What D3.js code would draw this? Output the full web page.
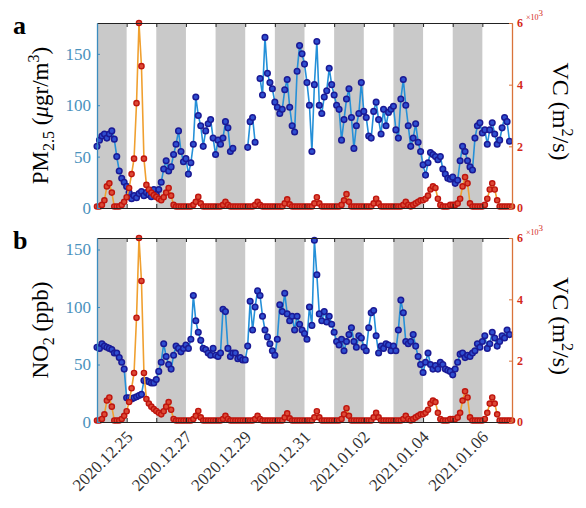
<!DOCTYPE html>
<head>
    <meta charset="utf-8">
    <title>PM2.5 / NO2 vs VC</title>
    <script src="https://d3js.org/d3.v7.min.js"></script>
    <style>
        body { margin: 0; background: #fff; }
        text { font-family: "Liberation Serif", "DejaVu Serif", serif; }
    </style>
</head>
<body>
<script>
    // 2-hourly samples from 2020.12.24 00:00 to 2021.01.07 00:00
    const startDay = "2020.12.24"
    const endDay = "2021.01.07"
    const stepHours = 2

    const pm25 = [
        60, 66, 70, 72, 68, 72, 75, 67, 50, 36, 29, 25,
        21, 15, 9, 12, 10, 14, 16, 12, 15, 13, 11, 18,
        13, 18, 25, 38, 46, 36, 40, 52, 62, 75, 55, 45,
        48, 33, 44, 62, 108, 90, 80, 60, 75, 82, 86, 68,
        52, 66, 62, 68, 84, 78, 55, 58, null, null, null, null,
        null, 59, 84, 88, 64, null, 126, 110, 166, 131, 122, 116,
        103, 98, 92, 96, 115, 125, 98, 80, 74, 133, 158, 150,
        140, 122, 100, 55, 120, 162, 100, 92, 108, 114, 136, 120,
        110, 100, 96, 66, 86, 106, 116, 88, 58, 80, 92, 122,
        94, 88, 70, 68, 94, 103, 86, 72, 96, 80, 93, 96,
        99, 76, 68, 106, 125, 100, 80, 60, 68, 82, 64, 55,
        42, 32, 44, 54, 52, 50, 47, 50, 38, 33, 29, 28,
        30, 24, 27, 46, 60, 55, 46, 40, 37, 68, 80, 83,
        73, 76, 62, 76, 83, 72, 62, 66, 78, 88, 84, 65, null
    ]

    const no2 = [
        65, 64, 68, 66, 65, 64, 63, 60, 60, 56, 52, 46,
        21, 21, 20, 21, 22, 23, 24, 36, 36, 35, 34, 34,
        37, 44, 52, 68, 57, 50, 46, 58, 66, 64, 61, 64,
        67, 64, 72, 110, 88, 78, 71, 64, 63, 60, 58, 64,
        58, 57, 60, 98, 96, 64, 57, 60, 60, 55, 56, 54,
        54, 66, 105, 80, 100, 114, 110, 92, 80, 74, 68, 62,
        58, 72, 102, 96, 112, 94, 88, 92, 80, 92, 85, 80,
        77, 72, 100, 84, 158, 128, 94, 88, 96, 87, 92, 85,
        78, 70, 67, 72, 62, 70, 76, 82, 70, 65, 75, 73,
        65, 62, 82, 95, 97, 75, 60, 66, 64, 68, 67, 62,
        66, 62, 80, 106, 95, 70, 68, 70, 76, 66, 57, 50,
        43, 52, 60, 50, 46, 49, 46, 52, 50, 46, 45, 44,
        41, 46, 52, 59, 60, 56, 58, 57, 60, 62, 68, 65,
        70, 75, 64, 68, 78, 73, 66, 70, 75, 73, 80, 76, null
    ]

    // ventilation coefficient, m2/s
    const vc = [
        50, 50, 100, 250, 700, 800, 500, 50, 50, 50, 100, 200,
        350, 650, 1100, 1600, 3400, 6000, 4600, 1600, 750, 600, 500, 420,
        360, 300, 250, 350, 500, 650, 400, 100, 50, 50, 50, 50,
        50, 50, 50, 100, 200, 360, 150, 50, 50, 50, 50, 50,
        50, 50, 50, 100, 200, 100, 50, 50, 50, 50, 50, 50,
        50, 50, 50, 50, 100, 200, 100, 50, 50, 50, 50, 50,
        50, 50, 50, 50, 150, 280, 120, 50, 50, 50, 50, 50,
        50, 50, 50, 50, 150, 350, 150, 50, 50, 50, 50, 50,
        50, 50, 50, 100, 250, 450, 200, 50, 50, 50, 50, 50,
        50, 50, 50, 50, 150, 300, 150, 50, 50, 50, 50, 50,
        50, 50, 50, 50, 100, 200, 100, 50, 100, 150, 200, 250,
        250, 300, 400, 600, 700, 650, 300, 100, 50, 50, 50, 100,
        100, 100, 150, 300, 700, 1000, 800, 150, 50, 50, 50, 50,
        50, 100, 300, 600, 800, 600, 250, 50, 50, 50, 50, 50, 50
    ]

    const dateLabels = ["2020.12.25", "2020.12.27", "2020.12.29", "2020.12.31", "2021.01.02", "2021.01.04", "2021.01.06"]
    const vcTicks = [0, 2000, 4000, 6000]

    const parseDay = d3.timeParse("%Y.%m.%d")
    const t0 = parseDay(startDay)
    const t1 = parseDay(endDay)
    const times = pm25.map((_, i) => d3.timeHour.offset(t0, i * stepHours))

    const width = 586, height = 508
    const left = 97, right = 512

    const svg = d3.select("body").append("svg")
        .attr("width", width)
        .attr("height", height)

    const x = d3.scaleTime().domain([t0, t1]).range([left, right])
    const days = d3.timeDay.range(t0, t1)

    const panels = [
        { letter: "a", top: 23, bottom: 208, values: pm25, yMax: 180, yTicks: [0, 50, 100, 150], label: "pm" },
        { letter: "b", top: 238, bottom: 422, values: no2, yMax: 160, yTicks: [0, 50, 100, 150], label: "no2" }
    ]

    const blueAxis = "#3b8cbf"
    const redAxis = "#d9733a"

    panels.forEach((p, k) => {
        const y = d3.scaleLinear().domain([0, p.yMax]).range([p.bottom, p.top])
        const yR = d3.scaleLinear().domain([0, 6000]).range([p.bottom, p.top])
        const g = svg.append("g")

        svg.append("clipPath").attr("id", "clip" + k)
            .append("rect")
            .attr("x", left).attr("y", p.top)
            .attr("width", right - left).attr("height", p.bottom - p.top)

        // day / night bands
        g.append("g").selectAll("rect")
            .data(days.filter((d, i) => i % 2 === 0))
            .join("rect")
                .attr("x", d => x(d))
                .attr("y", p.top)
                .attr("width", d => x(d3.timeDay.offset(d, 1)) - x(d))
                .attr("height", p.bottom - p.top)
                .attr("fill", "#c9c9c9")

        const blue = p.values.map((v, i) => ({ t: times[i], v: v }))
        const red = vc.map((v, i) => ({ t: times[i], v: v }))

        g.append("path")
            .datum(blue)
            .attr("clip-path", `url(#clip${k})`)
            .attr("fill", "none")
            .attr("stroke", "#2590d8")
            .attr("stroke-width", 1.6)
            .attr("d", d3.line().defined(d => d.v !== null).x(d => x(d.t)).y(d => y(d.v)))

        g.append("g").selectAll("circle")
            .data(blue.filter(d => d.v !== null))
            .join("circle")
                .attr("cx", d => x(d.t))
                .attr("cy", d => y(d.v))
                .attr("r", 2.8)
                .attr("fill", "#2f4fd0")
                .attr("stroke", "#1a1a95")
                .attr("stroke-width", 1.5)

        g.append("path")
            .datum(red)
            .attr("clip-path", `url(#clip${k})`)
            .attr("fill", "none")
            .attr("stroke", "#f0a030")
            .attr("stroke-width", 1.6)
            .attr("d", d3.line().x(d => x(d.t)).y(d => yR(d.v)))

        g.append("g").selectAll("circle")
            .data(red)
            .join("circle")
                .attr("cx", d => x(d.t))
                .attr("cy", d => yR(d.v))
                .attr("r", 2.6)
                .attr("fill", "#dc4a36")
                .attr("stroke", "#bf150e")
                .attr("stroke-width", 1.4)

        // top and bottom frame with daily ticks
        g.append("g")
            .attr("transform", `translate(0,${p.top})`)
            .call(d3.axisTop(x).tickValues(days.slice(1)).tickSize(-4).tickSizeOuter(0).tickFormat(""))
            .call(a => a.selectAll("path, line").attr("stroke", "#222"))

        g.append("g")
            .attr("transform", `translate(0,${p.bottom})`)
            .call(d3.axisBottom(x).tickValues(days.slice(1)).tickSize(-4).tickSizeOuter(0).tickFormat(""))
            .call(a => a.selectAll("path, line").attr("stroke", "#222"))

        // left axis
        g.append("g")
            .attr("transform", `translate(${left},0)`)
            .call(d3.axisLeft(y).tickValues(p.yTicks).tickSize(-3).tickSizeOuter(0).tickPadding(6))
            .call(a => a.select(".domain").attr("stroke", blueAxis).attr("stroke-width", 1.3))
            .call(a => a.selectAll(".tick line").attr("stroke", blueAxis))
            .call(a => a.selectAll(".tick text")
                .attr("fill", "#4a92bd")
                .attr("font-size", 17)
                .style("font-family", "Liberation Serif"))

        // right axis
        g.append("g")
            .attr("transform", `translate(${right},0)`)
            .call(d3.axisRight(yR).tickValues(vcTicks).tickSize(-3).tickSizeOuter(0).tickPadding(5)
                .tickFormat(d => d / 1000))
            .call(a => a.select(".domain").attr("stroke", redAxis).attr("stroke-width", 1.3))
            .call(a => a.selectAll(".tick line").attr("stroke", redAxis))
            .call(a => a.selectAll(".tick text")
                .attr("fill", "#d42a1a")
                .attr("font-size", 12)
                .attr("font-weight", "bold")
                .style("font-family", "Liberation Serif"))

        // x10^3 multiplier
        const mult = g.append("text")
            .attr("x", right + 14)
            .attr("y", p.top - 3)
            .attr("fill", "#d42a1a")
            .attr("font-size", 8)
        mult.append("tspan").text("×10")
        mult.append("tspan").attr("dy", -4).attr("font-size", 9).text("3")

        // panel letter
        g.append("text")
            .attr("x", 13)
            .attr("y", p.top + 11)
            .attr("font-size", 26)
            .attr("font-weight", "bold")
            .text(p.letter)

        // left label
        const cy = (p.top + p.bottom) / 2
        const ll = g.append("text")
            .attr("transform", `translate(48,${cy}) rotate(-90)`)
            .attr("text-anchor", "middle")
            .attr("font-size", 23)
        if (p.label === "pm") {
            ll.append("tspan").text("PM")
            ll.append("tspan").attr("dy", 6).attr("font-size", 16).text("2.5")
            ll.append("tspan").attr("dy", -6).text(" (")
            ll.append("tspan").attr("font-style", "italic").text("μ")
            ll.append("tspan").text("gr/m")
            ll.append("tspan").attr("dy", -9).attr("font-size", 16).text("3")
            ll.append("tspan").attr("dy", 9).text(")")
        } else {
            ll.append("tspan").text("NO")
            ll.append("tspan").attr("dy", 6).attr("font-size", 16).text("2")
            ll.append("tspan").attr("dy", -6).text(" (ppb)")
        }

        // right label
        const rl = g.append("text")
            .attr("transform", `translate(553,${cy - 4}) rotate(90)`)
            .attr("text-anchor", "middle")
            .attr("font-size", 24)
        rl.append("tspan").text("VC (m")
        rl.append("tspan").attr("dy", -9).attr("font-size", 16).text("2")
        rl.append("tspan").attr("dy", 9).text("/s)")

        if (k === 1) {
            g.append("g").selectAll("text")
                .data(dateLabels.map(parseDay))
                .join("text")
                    .attr("transform", d => `translate(${x(d) + 7},${p.bottom + 16}) rotate(-45)`)
                    .attr("text-anchor", "end")
                    .attr("font-size", 17)
                    .attr("fill", "#333")
                    .text(d3.timeFormat("%Y.%m.%d"))
        }
    })
</script>
</body>
